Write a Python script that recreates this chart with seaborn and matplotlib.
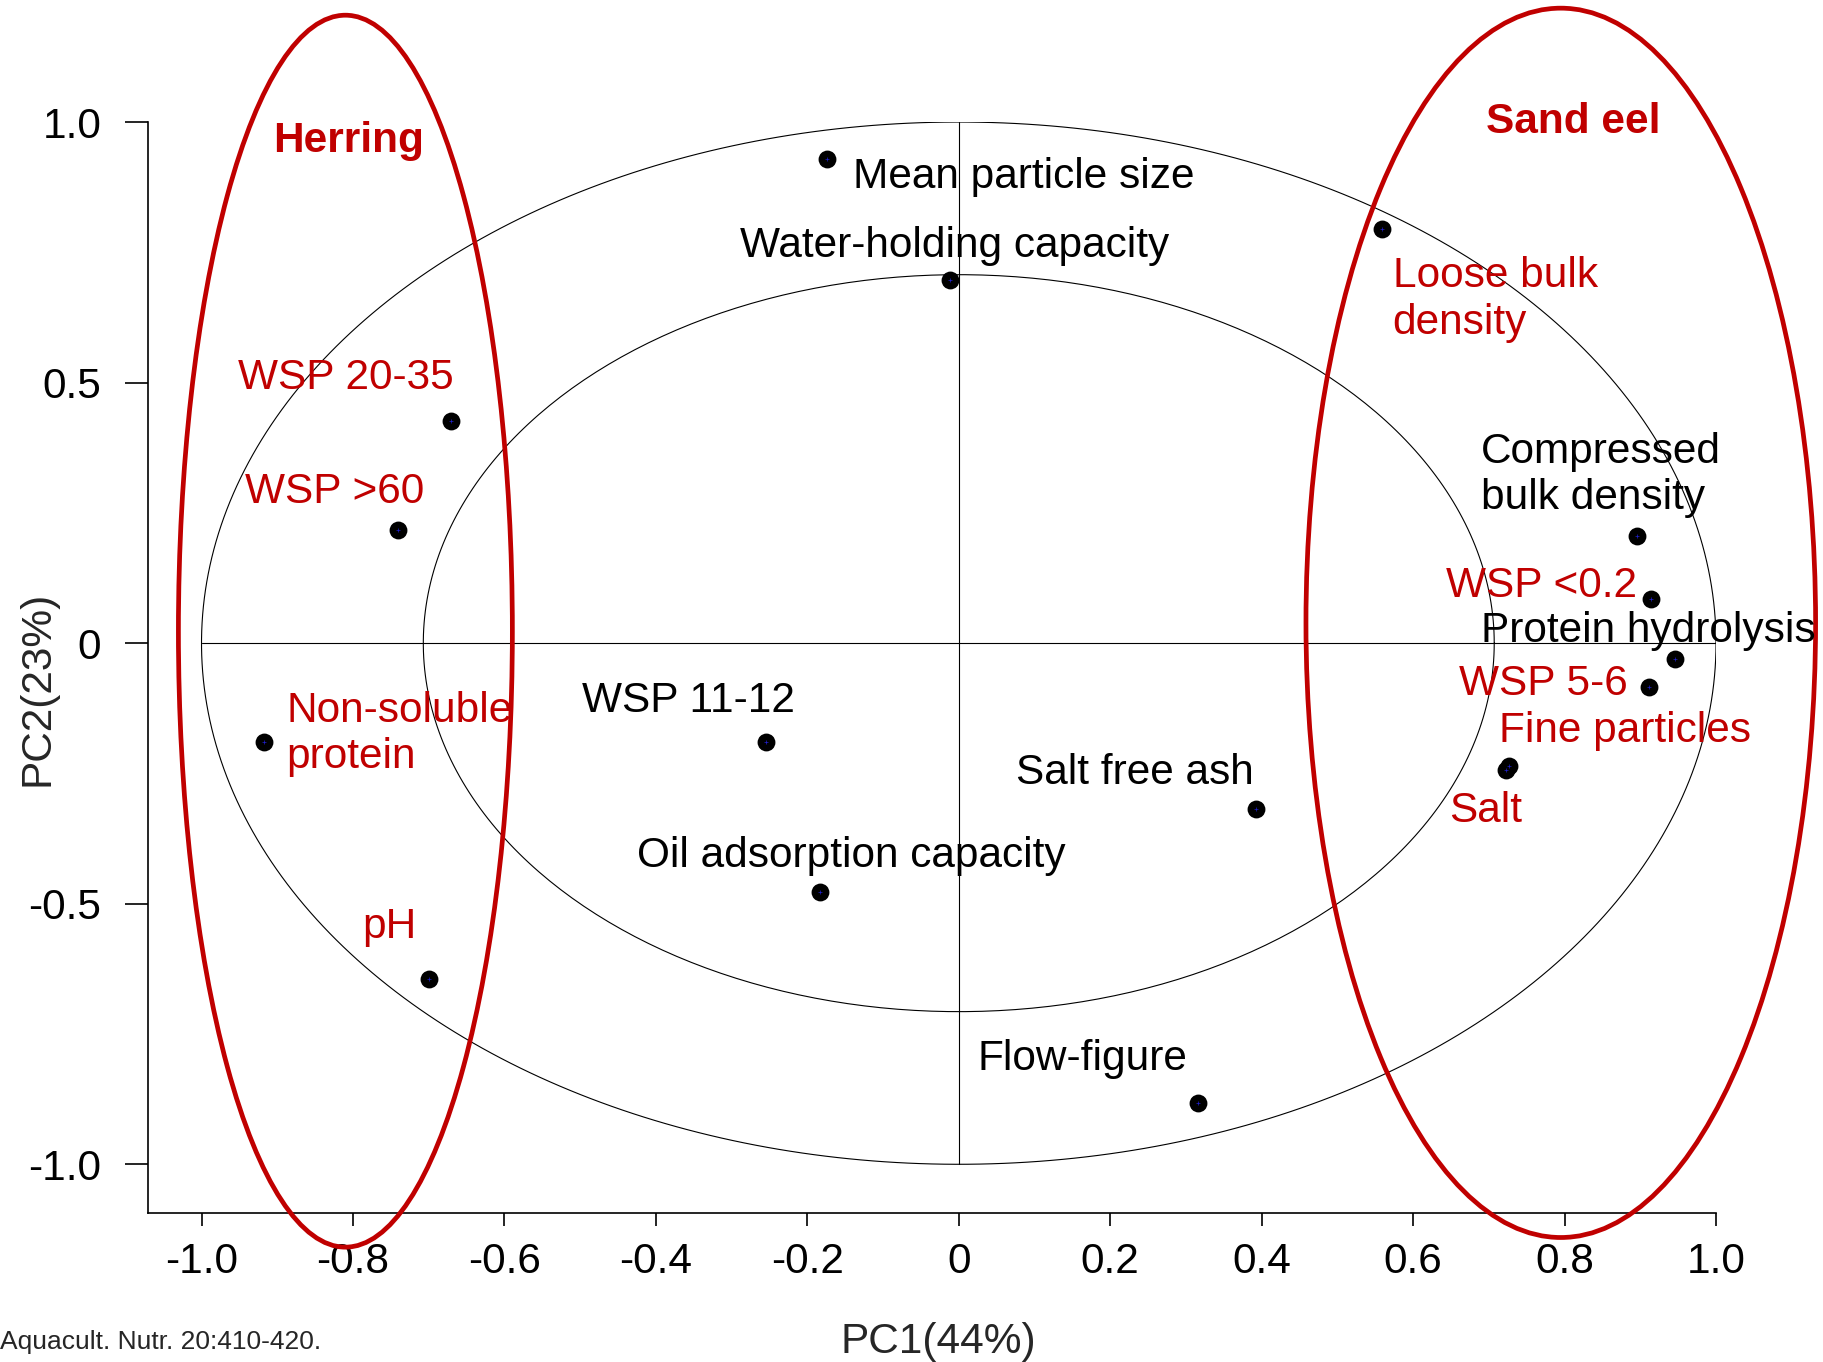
"""PCA correlation circle: herring vs sand eel fish meal properties"""

import numpy as np
import pandas as pd
import matplotlib.pyplot as plt
import matplotlib.patches as mpatches
import seaborn as sns

##### data ####################################################################
variables = [
    "Mean particle size",
    "Water-holding capacity",
    "Loose bulk\ndensity",
    "WSP 20-35",
    "WSP >60",
    "Compressed\nbulk density",
    "WSP <0.2",
    "Protein hydrolysis",
    "WSP 5-6",
    "Fine particles",
    "Salt",
    "Non-soluble\nprotein",
    "WSP 11-12",
    "Oil adsorption capacity",
    "pH",
    "Salt free ash",
    "Flow-figure",
]
pc1 = [-0.174, -0.011, 0.559, -0.671, -0.740, 0.896, 0.914, 0.946, 0.912,
       0.726, 0.722, -0.917, -0.255, -0.183, -0.699, 0.392, 0.316]
pc2 = [0.929, 0.696, 0.795, 0.426, 0.217, 0.205, 0.085, -0.031, -0.085,
       -0.236, -0.244, -0.190, -0.190, -0.478, -0.645, -0.319, -0.882]
group = ["none", "none", "sand eel", "herring", "herring", "none", "sand eel",
         "none", "sand eel", "sand eel", "sand eel", "herring", "none", "none",
         "herring", "none", "none"]

xticks = [-1.0, -0.8, -0.6, -0.4, -0.2, 0, 0.2, 0.4, 0.6, 0.8, 1.0]
xticklabels = ["-1.0", "-0.8", "-0.6", "-0.4", "-0.2", "0", "0.2", "0.4", "0.6", "0.8", "1.0"]
yticks = [1.0, 0.5, 0, -0.5, -1.0]
yticklabels = ["1.0", "0.5", "0", "-0.5", "-1.0"]

##### label placement (left edge, baseline of the last line) ####################
label_pos = [
    (-0.140, 0.873), (-0.289, 0.741), (0.573, 0.594), (-0.952, 0.487),
    (-0.942, 0.268), (0.690, 0.257), (0.644, 0.088), (0.690, 0.002),
    (0.661, -0.100), (0.714, -0.189), (0.648, -0.343), (-0.888, -0.239),
    (-0.498, -0.132), (-0.425, -0.429), (-0.788, -0.566), (0.075, -0.270),
    (0.025, -0.819),
]

RED = "#c00000"
FS = 30.5

df = pd.DataFrame({"variable": variables, "PC1": pc1, "PC2": pc2, "group": group})

sns.set_style("ticks")
plt.rcParams["font.family"] = ["Liberation Sans", "DejaVu Sans"]

fig = plt.figure(figsize=(18.24, 13.62), dpi=100)
ax = fig.add_axes([0.0810, 0.1092, 0.8598, 0.8012])

# correlation circles (unit and sqrt(0.5)) and centre lines
t = np.linspace(0, 2 * np.pi, 400)
for r in (1.0, np.sqrt(0.5)):
    ax.plot(r * np.cos(t), r * np.sin(t), color="black", linewidth=0.8, zorder=1)
ax.plot([-1, 1], [0, 0], color="black", linewidth=0.8, zorder=1)
ax.plot([0, 0], [-1, 1], color="black", linewidth=0.8, zorder=1)

sns.scatterplot(
    data=df, x="PC1", y="PC2", color="black", s=165, linewidth=0,
    legend=False, ax=ax, zorder=4,
)
ax.scatter(df["PC1"], df["PC2"], marker="+", color="#2020d0", s=10,
           linewidths=0.5, zorder=5)

for (lx, ly), name, g in zip(label_pos, variables, group):
    ax.text(lx, ly, name, color=RED if g != "none" else "black", fontsize=FS,
            ha="left", va="baseline", zorder=6, clip_on=False)

# group outlines
ax.add_patch(mpatches.Ellipse((-0.810, 0.023), 0.441, 2.364, fill=False,
                              edgecolor=RED, linewidth=3.4, zorder=3, clip_on=False))
ax.add_patch(mpatches.Ellipse((0.795, 0.039), 0.673, 2.359, fill=False,
                              edgecolor=RED, linewidth=3.4, zorder=3, clip_on=False))
ax.text(-0.806, 0.943, "Herring", color=RED, fontsize=FS, fontweight="bold",
        ha="center", va="baseline")
ax.text(0.811, 0.979, "Sand eel", color=RED, fontsize=FS, fontweight="bold",
        ha="center", va="baseline", clip_on=False)

ax.set_xlim(-1.071, 1.0)
ax.set_ylim(-1.094, 1.0)
ax.set_xticks(xticks)
ax.set_xticklabels(xticklabels)
ax.set_yticks(yticks)
ax.set_yticklabels(yticklabels)
ax.tick_params(axis="x", direction="out", length=9.1, width=1.2, pad=11.5,
               labelsize=FS, colors="black")
ax.tick_params(axis="y", direction="out", length=16.5, width=1.2, pad=17,
               labelsize=FS, colors="black")
for side in ["top", "right"]:
    ax.spines[side].set_visible(False)
for side in ["left", "bottom"]:
    ax.spines[side].set_linewidth(1.2)
    ax.spines[side].set_color("black")

ax.set_xlabel("PC1(44%)", fontsize=FS)
ax.set_ylabel("PC2(23%)", fontsize=FS)
ax.xaxis.set_label_coords(0.5044, -0.118)
ax.xaxis.label.set_va("center")
ax.yaxis.set_label_coords(-0.0705, 0.481)
ax.yaxis.label.set_va("center")

fig.text(0.0, 1 - 1349 / 1362, "Aquacult. Nutr. 20:410-420.", fontsize=19,
         ha="left", va="baseline")

fig.savefig("out.png", dpi=100)
